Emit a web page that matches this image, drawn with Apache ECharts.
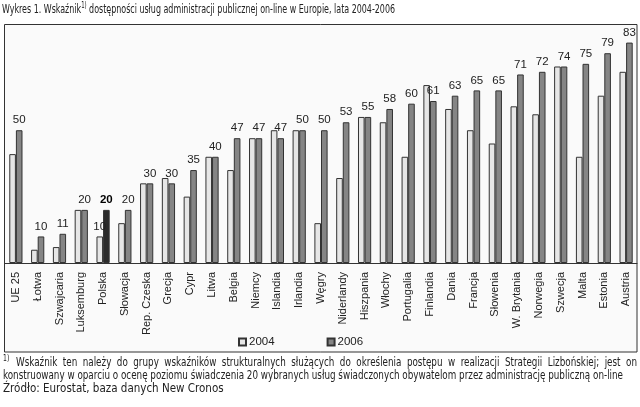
<!DOCTYPE html>
<html><head><meta charset="utf-8">
<script src="https://cdn.jsdelivr.net/npm/echarts@6/dist/echarts.min.js"></script>
<style>html,body{margin:0;padding:0;background:#fff}#c{width:640px;height:407px}</style>
</head><body><div id="c"></div>
<script>
const categories = ['UE 25','Łotwa','Szwajcaria','Luksemburg','Polska','Słowacja','Rep. Czeska','Grecja','Cypr','Litwa','Belgia','Niemcy','Islandia','Irlandia','Węgry','Niderlandy','Hiszpania','Włochy','Portugalia','Finlandia','Dania','Francja','Słowenia','W. Brytania','Norwegia','Szwecja','Malta','Estonia','Austria'];
const values2004 = [41,5,6,20,10,15,30,32,25,40,35,47,50,50,15,32,55,53,40,67,58,50,45,59,56,74,40,63,72];
const values2006 = [50,10,11,20,20,20,30,30,35,40,47,47,47,50,50,53,55,58,60,61,63,65,65,71,72,74,75,79,83];
const seriesNames = ['2004','2006'];
const highlightCategory = 'Polska';
const yMin = 0, yMax = 90;
const titleMain = 'Wykres 1. Wskaźnik';
const titleSup = '1)';
const titleRest = ' dostępności usług administracji publicznej on-line w Europie, lata 2004-2006';
const footSup = '1)';
const footLine1 = 'Wskaźnik ten należy do grupy wskaźników strukturalnych służących do określenia postępu w realizacji Strategii Lizbońskiej; jest on';
const footLine2 = 'konstruowany w oparciu o ocenę poziomu świadczenia 20 wybranych usług świadczonych obywatelom przez administrację publiczną on-line';
const footLine3 = 'Źródło: Eurostat, baza danych New Cronos';

const FONT_T = 'DejaVu Sans Condensed';
const cv = document.createElement('canvas').getContext('2d');
function tw(t, size){ cv.font = size + 'px "' + FONT_T + '"'; return cv.measureText(t).width; }
function txt(t, x, y, size, sx){
  return {type:'text', z:10, x:x, y:y, scaleX:sx||1, scaleY:1,
    style:{text:t, fill:'#222', font: size+'px "'+FONT_T+'"', textVerticalAlign:'middle', textAlign:'left'}};
}
const graphics = [];
graphics.push({type:'rect', z:-100, shape:{x:4.5, y:24.5, width:632.5, height:327.5}, style:{fill:'#fafafa', stroke:'#333', lineWidth:1}});
// title, fitted to the reference's width
const tSize = 12, supSize = 8;
const tTotal = tw(titleMain, tSize) + tw(titleSup, supSize) + tw(titleRest, tSize);
const tScale = 393 / tTotal;
let tx = 2;
graphics.push(txt(titleMain, tx, 10, tSize, tScale)); tx += tw(titleMain, tSize) * tScale;
graphics.push(txt(titleSup, tx, 6, supSize, tScale)); tx += tw(titleSup, supSize) * tScale;
graphics.push(txt(titleRest, tx, 10, tSize, tScale));
// footnote
const fSize = 11.5;
const fScale = 620 / tw(footLine2, fSize);
const f3Scale = Math.min(1, 233 / tw(footLine3, fSize));
graphics.push(txt(footSup, 3, 359, supSize, fScale));
(function(){
  const words = footLine1.split(' ');
  const ws = words.map(w => tw(w, fSize) * fScale);
  const x0 = 16, x1 = 637;
  const gap = (x1 - x0 - ws.reduce((a,b)=>a+b,0)) / (words.length - 1);
  let x = x0;
  words.forEach((w,i)=>{ graphics.push(txt(w, x, 363, fSize, fScale)); x += ws[i] + gap; });
})();
graphics.push(txt(footLine2, 3, 376, fSize, fScale));
graphics.push(txt(footLine3, 3, 389, fSize, f3Scale));

const data2004 = values2004.map((v,i)=> categories[i]===highlightCategory ? {value:v, label:{show:true}} : v);
const data2006 = values2006.map((v,i)=> categories[i]===highlightCategory ? {value:v, itemStyle:{color:'#2b2b2b'}, label:{fontWeight:'bold', color:'#000'}} : v);

const labelStyle = {position:'top', distance:4, fontSize:11.5, fontFamily:'Liberation Sans', color:'#222'};
const chart = echarts.init(document.getElementById('c'), null, {renderer:'canvas'});
chart.setOption({
  animation:false,
  backgroundColor:'#fff',
  grid:{left:5, right:3, top:24, bottom:144, containLabel:false},
  legend:{data:seriesNames, left:238, top:336, itemWidth:7, itemHeight:7, itemGap:52, padding:0, icon:'rect',
    textStyle:{fontSize:11.5, fontFamily:'Liberation Sans', color:'#222', padding:[0,0,0,-2]}},
  xAxis:{type:'category', data:categories, axisTick:{show:false},
    axisLine:{lineStyle:{color:'#333', width:1}},
    axisLabel:{rotate:90, interval:0, margin:9, fontSize:11, fontFamily:'Liberation Sans', color:'#222'}},
  yAxis:{type:'value', min:yMin, max:yMax, show:false, splitLine:{show:false}},
  series:[
    {name:seriesNames[0], type:'bar', data:data2004, barWidth:6.6, barGap:'0%',
      itemStyle:{color:'#e6e6e6', borderColor:'#333', borderWidth:1},
      label:Object.assign({show:false}, labelStyle)},
    {name:seriesNames[1], type:'bar', data:data2006, barWidth:6.6, barGap:'0%',
      itemStyle:{color:'#858585', borderColor:'#333', borderWidth:1},
      label:Object.assign({show:true}, labelStyle)}
  ],
  graphic: graphics
});
</script></body></html>
